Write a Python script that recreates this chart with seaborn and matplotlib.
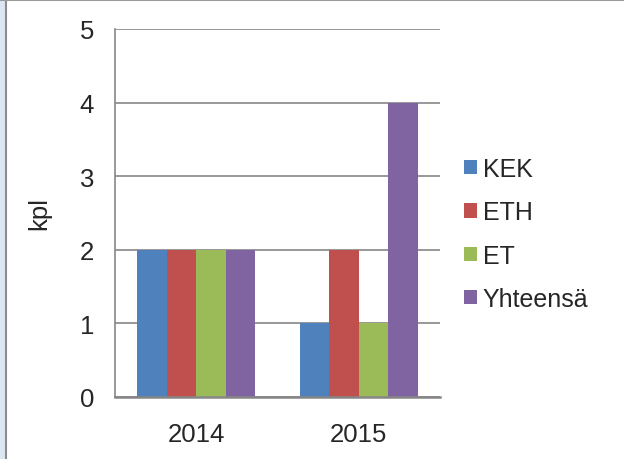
import pandas as pd
import matplotlib.pyplot as plt
import seaborn as sns
from matplotlib.patches import Rectangle
from matplotlib.lines import Line2D

# Chart data
years = ['2014', '2015']
series = ['KEK', 'ETH', 'ET', 'Yhteensä']
kek = [2, 1]
eth = [2, 2]
et = [2, 1]
yhteensa = [2, 4]
colors = ['#4F81BD', '#C0504D', '#9BBB59', '#8064A2']

# Long format for seaborn
rows = []
for name, vals in zip(series, [kek, eth, et, yhteensa]):
    for y, v in zip(years, vals):
        rows.append({'year': y, 'series': name, 'kpl': v})
df = pd.DataFrame(rows)

sns.set_style('white')
plt.rcParams['font.family'] = ['Liberation Sans', 'DejaVu Sans']

fig = plt.figure(figsize=(6.24, 4.6), dpi=100)
ax = fig.add_axes([115 / 624, 1 - 398 / 460, 325 / 624, 368 / 460])

sns.barplot(data=df, x='year', y='kpl', hue='series', palette=colors,
            width=0.727, saturation=1, edgecolor='none', linewidth=0, ax=ax)

ax.set_ylim(0, 5)
ax.set_yticks(range(0, 6))
ax.yaxis.grid(True, color='#868686', linewidth=1.2)
ax.set_axisbelow(True)
for s in ['top', 'right']:
    ax.spines[s].set_visible(False)
ax.spines['left'].set_color('#868686')
ax.spines['left'].set_linewidth(1.2)
ax.spines['bottom'].set_color('#868686')
ax.spines['bottom'].set_linewidth(1.8)
ax.tick_params(axis='y', length=0, pad=15, labelsize=18.5)
ax.tick_params(axis='x', length=0, pad=18, labelsize=18.5)
ax.set_xlabel('')
ax.set_ylabel('kpl', fontsize=18.5)
ax.yaxis.set_label_coords(-0.195, 0.5)

ax.legend(loc='center left', bbox_to_anchor=(464 / 624, 1 - 235 / 460),
          bbox_transform=fig.transFigure, frameon=False, fontsize=18,
          handlelength=0.5, handleheight=0.5, handletextpad=0.25,
          labelspacing=0.77, borderaxespad=0, borderpad=0)

# Frame decoration like the original chart object
fig.patches.append(Rectangle((0, 0), 5 / 624, 1, transform=fig.transFigure,
                             facecolor='#DCE6F2', edgecolor='none'))
fig.lines.append(Line2D([6 / 624, 6 / 624], [0, 1], transform=fig.transFigure,
                        color='#8C8C8C', linewidth=1.5))
fig.lines.append(Line2D([0, 1], [1 - 1 / 460, 1 - 1 / 460], transform=fig.transFigure,
                        color='#9A9A9A', linewidth=1.5))

fig.savefig('out.png', dpi=100)
